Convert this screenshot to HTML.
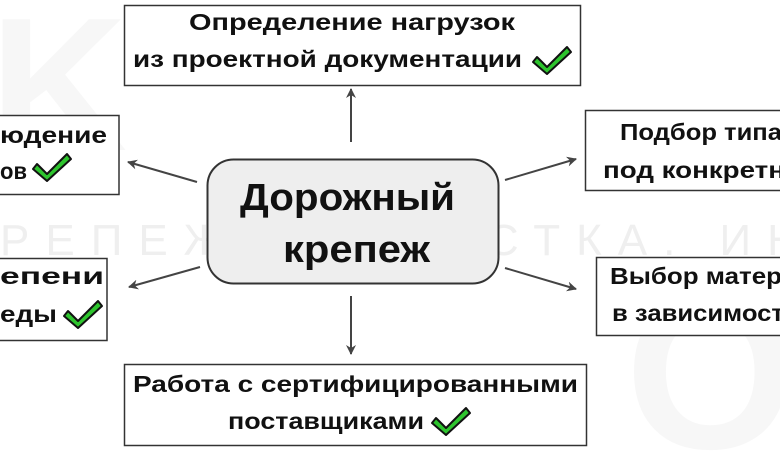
<!DOCTYPE html>
<html><head><meta charset="utf-8"><style>
html,body{margin:0;padding:0;background:#fff;width:780px;height:451px;overflow:hidden}
svg{display:block;overflow:hidden}
svg text{font-family:"Liberation Sans",sans-serif;font-weight:700;fill:#111}
</style></head><body>
<svg width="780" height="451" viewBox="0 0 780 451" xmlns="http://www.w3.org/2000/svg">
<defs>
<clipPath id="c"><rect x="0" y="0" width="780" height="451"/></clipPath>
<marker id="a" markerWidth="10" markerHeight="10" refX="9" refY="5" orient="auto" markerUnits="userSpaceOnUse">
<path d="M0,0 L10,5 L0,10 L3,5 Z" fill="#444"/></marker>
<g id="ck"><path d="M2,12 L12,22 L32,2 L36,7 L12,29 L-2,17 Z" fill="#2ec52e" stroke="#111" stroke-width="2" stroke-linejoin="round"/></g>
</defs>
<g clip-path="url(#c)">
<text x="-10" y="150" style="font-size:190px;fill:#f7f7f7">K</text>
<text x="625" y="448" style="font-size:220px;fill:#f7f7f7">O</text>
<text x="0" y="255" style="font-size:44px;font-weight:400;fill:#efefef;letter-spacing:16px">РЕПЕЖ. ОСНАСТКА. ИНСТ</text>
</g>
<g stroke="#444" stroke-width="2" marker-end="url(#a)">
<line x1="351" y1="142" x2="351" y2="89"/>
<line x1="197" y1="182" x2="128" y2="162"/>
<line x1="505" y1="180" x2="576" y2="159"/>
<line x1="200" y1="267" x2="129" y2="287"/>
<line x1="505" y1="268" x2="576" y2="289"/>
<line x1="351" y1="296" x2="351" y2="354"/>
</g>
<g fill="#fff" stroke="#333" stroke-width="1.5">
<rect x="124.5" y="5.5" width="456" height="80"/>
<rect x="-2" y="115.5" width="121" height="79"/>
<rect x="585.5" y="110.5" width="200" height="80"/>
<rect x="-2" y="258.5" width="109" height="82"/>
<rect x="596.5" y="257.5" width="190" height="78"/>
<rect x="124.5" y="364.5" width="462" height="81"/>
</g>
<rect x="207.5" y="159.5" width="291" height="124" rx="26" fill="#eeeeee" stroke="#333" stroke-width="2"/>
<g style="font-size:23px">
<text x="189" y="30" textLength="326" lengthAdjust="spacingAndGlyphs">Определение нагрузок</text>
<text x="133" y="67" textLength="389" lengthAdjust="spacingAndGlyphs">из проектной документации</text>
<text x="0" y="143" textLength="107" lengthAdjust="spacingAndGlyphs">юдение</text>
<text x="0" y="179" textLength="27" lengthAdjust="spacingAndGlyphs">ов</text>
<text x="620" y="140" textLength="162" lengthAdjust="spacingAndGlyphs">Подбор типа</text>
<text x="603" y="178" textLength="182" lengthAdjust="spacingAndGlyphs">под конкретн</text>
<text x="0" y="284" textLength="104" lengthAdjust="spacingAndGlyphs">епени</text>
<text x="0" y="322" textLength="57" lengthAdjust="spacingAndGlyphs">еды</text>
<text x="610" y="284" textLength="172" lengthAdjust="spacingAndGlyphs">Выбор матер</text>
<text x="612" y="321" textLength="172" lengthAdjust="spacingAndGlyphs">в зависимост</text>
<text x="133" y="392" textLength="445" lengthAdjust="spacingAndGlyphs">Работа с сертифицированными</text>
<text x="228" y="429" textLength="196" lengthAdjust="spacingAndGlyphs">поставщиками</text>
</g>
<g style="font-size:38px">
<text x="240" y="210" textLength="215" lengthAdjust="spacingAndGlyphs">Дорожный</text>
<text x="283" y="262" textLength="147" lengthAdjust="spacingAndGlyphs">крепеж</text>
</g>
<use href="#ck" x="535" y="45"/>
<use href="#ck" x="35" y="152"/>
<use href="#ck" x="66" y="299"/>
<use href="#ck" x="434" y="406"/>
</svg>
</body></html>
